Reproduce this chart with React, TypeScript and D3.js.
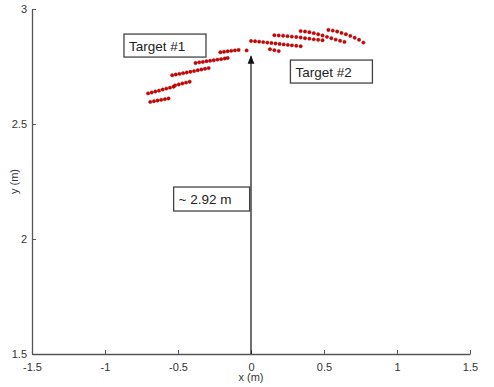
import * as d3 from "d3";
import { useEffect } from "react";

// x ticks / y ticks
const xTicks = [-1.5, -1, -0.5, 0, 0.5, 1, 1.5];
const yTicks = [1.5, 2, 2.5, 3];

// Target #1 detections (x, y) in metres
const target1X = [
  -0.69, -0.665, -0.64, -0.615, -0.59, -0.565,
  -0.705, -0.68, -0.655, -0.63, -0.605, -0.58, -0.555, -0.53,
  -0.52, -0.495, -0.47, -0.445, -0.42,
  -0.54, -0.515, -0.49, -0.465, -0.44, -0.415, -0.39, -0.365, -0.34, -0.315, -0.29,
  -0.38, -0.355, -0.33, -0.305, -0.28, -0.255, -0.23, -0.205, -0.18, -0.16,
  -0.21, -0.185, -0.16, -0.135, -0.11, -0.085, -0.03,
];
const target1Y = [
  2.596, 2.599, 2.602, 2.605, 2.608, 2.611,
  2.633, 2.637, 2.641, 2.645, 2.65, 2.654, 2.658, 2.662,
  2.668, 2.672, 2.676, 2.68, 2.684,
  2.712, 2.715, 2.718, 2.721, 2.724, 2.727, 2.73, 2.734, 2.737, 2.74, 2.743,
  2.765, 2.768, 2.77, 2.773, 2.775, 2.777, 2.78, 2.782, 2.785, 2.787,
  2.812, 2.814, 2.816, 2.818, 2.82, 2.822, 2.82,
];

// Target #2 detections
const target2X = [
  0.0, 0.028, 0.056, 0.084, 0.112, 0.14, 0.168, 0.196, 0.224, 0.252, 0.28, 0.31, 0.34,
  0.13, 0.16, 0.19,
  0.16, 0.19, 0.22, 0.25, 0.28, 0.31, 0.34, 0.37, 0.4, 0.43, 0.46, 0.49,
  0.34, 0.37, 0.4, 0.43, 0.46, 0.49, 0.52, 0.55, 0.58, 0.61, 0.64,
  0.53, 0.56, 0.59, 0.62, 0.65, 0.68, 0.71, 0.74, 0.77,
];
const target2Y = [
  2.861, 2.86, 2.858, 2.856, 2.854, 2.852, 2.85, 2.848, 2.846, 2.844, 2.842, 2.84, 2.838,
  2.825, 2.821, 2.817,
  2.886, 2.885, 2.884, 2.882, 2.88, 2.878, 2.876, 2.873, 2.871, 2.868, 2.866, 2.864,
  2.904, 2.902, 2.899, 2.895, 2.89, 2.885, 2.879, 2.873, 2.867, 2.862, 2.857,
  2.909, 2.906, 2.902, 2.896, 2.89, 2.883, 2.875, 2.866, 2.854,
];

const labels = ["Target #1", "Target #2", "~ 2.92 m"];

const App = () => {
  useEffect(() => {
    d3.select("#radar_plot").selectAll("*").remove();

    const W = 494,
      H = 387;
    const margin = { top: 9, right: 24, bottom: 33, left: 32 },
      width = W - margin.left - margin.right,
      height = H - margin.top - margin.bottom;

    const root = d3
      .select("#radar_plot")
      .append("svg")
      .attr("width", W)
      .attr("height", H)
      .style("position", "absolute")
      .style("left", "0px")
      .style("top", "0px")
      .style("background", "#fff")
      .style("font-family", "'Liberation Sans', Arial, sans-serif");

    const svg = root
      .append("g")
      .attr("transform", `translate(${margin.left},${margin.top})`);

    const x = d3.scaleLinear().domain([-1.5, 1.5]).range([0, width]);
    const y = d3.scaleLinear().domain([1.5, 3]).range([height, 0]);

    // x axis (ticks pointing inward)
    const xAxis = svg
      .append("g")
      .attr("transform", `translate(0,${height})`)
      .call(
        d3
          .axisBottom(x)
          .tickValues(xTicks)
          .tickSizeInner(-4)
          .tickSizeOuter(0)
          .tickPadding(9)
          .tickFormat((d) => String(d))
      );
    xAxis.select(".domain").attr("stroke", "#555").attr("stroke-width", 1.3);
    xAxis.selectAll("line").attr("stroke", "#555");
    xAxis
      .selectAll("text")
      .attr("fill", "#333")
      .style("font-size", "11px")
      .style("font-family", "'Liberation Sans', Arial, sans-serif");

    const yAxis = svg
      .append("g")
      .call(
        d3
          .axisLeft(y)
          .tickValues(yTicks)
          .tickSizeInner(-4)
          .tickSizeOuter(0)
          .tickPadding(5)
          .tickFormat((d) => String(d))
      );
    yAxis.select(".domain").attr("stroke", "#555").attr("stroke-width", 1.3);
    yAxis.selectAll("line").attr("stroke", "#555");
    yAxis
      .selectAll("text")
      .attr("fill", "#333")
      .style("font-size", "11px")
      .style("font-family", "'Liberation Sans', Arial, sans-serif");

    // axis labels
    svg
      .append("text")
      .attr("x", x(0))
      .attr("y", height + 27)
      .attr("text-anchor", "middle")
      .attr("fill", "#333")
      .style("font-size", "11px")
      .text("x (m)");
    svg
      .append("text")
      .attr("transform", `translate(-14,${y(2.25)}) rotate(-90)`)
      .attr("text-anchor", "middle")
      .attr("fill", "#333")
      .style("font-size", "11px")
      .text("y (m)");

    // arrow from origin up to target
    root
      .append("defs")
      .append("marker")
      .attr("id", "arrowhead")
      .attr("viewBox", "0 0 10 10")
      .attr("refX", 9)
      .attr("refY", 5)
      .attr("markerWidth", 7)
      .attr("markerHeight", 9)
      .attr("orient", "auto")
      .append("path")
      .attr("d", "M0,1 L10,5 L0,9 Z")
      .attr("fill", "#111");

    svg
      .append("line")
      .attr("x1", x(0))
      .attr("x2", x(0))
      .attr("y1", y(1.5))
      .attr("y2", y(2.795))
      .attr("stroke", "#111")
      .attr("stroke-width", 1.2)
      .attr("marker-end", "url(#arrowhead)");

    // dots
    const pts = [
      ...target1X.map((v, i) => [v, target1Y[i]]),
      ...target2X.map((v, i) => [v, target2Y[i]]),
    ];
    svg
      .selectAll(".dot")
      .data(pts)
      .enter()
      .append("circle")
      .attr("class", "dot")
      .attr("cx", (d) => x(d[0]))
      .attr("cy", (d) => y(d[1]))
      .attr("r", 1.7)
      .attr("fill", "#d40000")
      .attr("stroke", "#8a0000")
      .attr("stroke-width", 0.4);

    // label boxes
    const boxes = [
      { text: labels[0], bx: -0.87, by: 2.891, w: 82, h: 23 },
      { text: labels[1], bx: 0.27, by: 2.778, w: 82, h: 23 },
      { text: labels[2], bx: -0.53, by: 2.226, w: 76, h: 24 },
    ];
    boxes.forEach((b) => {
      const g = svg
        .append("g")
        .attr("transform", `translate(${x(b.bx)},${y(b.by)})`);
      g.append("rect")
        .attr("width", b.w)
        .attr("height", b.h)
        .attr("fill", "#fff")
        .attr("stroke", "#444")
        .attr("stroke-width", 1.3);
      g.append("text")
        .attr("x", 5)
        .attr("y", 16.5)
        .attr("fill", "#222")
        .style("font-size", "13.5px")
        .text(b.text);
    });
  }, []);

  return <div id="radar_plot" />;
};

export default App;
